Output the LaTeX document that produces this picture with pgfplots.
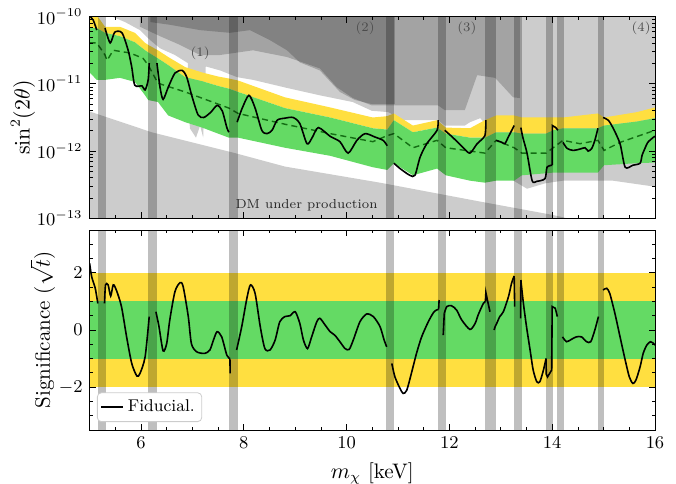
\documentclass[border=0pt]{standalone}
\usepackage{pgfplots}
\usepackage{pgfplotstable}
\pgfplotsset{compat=1.18}
\definecolor{byellow}{RGB}{255,223,64}
\definecolor{bgreen}{RGB}{100,218,100}
\definecolor{mgreen}{RGB}{20,110,20}

% expected median limit (log10 of sin^2(2theta))
\pgfplotstableread{
x m
5.00 -10.39
5.14 -10.39
5.30 -10.57
5.34 -10.65
5.46 -10.50
5.79 -10.54
6.04 -10.62
6.14 -10.72
6.33 -10.99
6.86 -11.12
7.71 -11.36
7.89 -11.44
8.80 -11.60
9.68 -11.74
10.51 -11.86
10.79 -11.77
10.92 -11.74
11.29 -11.95
11.76 -11.84
11.93 -11.95
12.69 -12.03
12.91 -11.84
13.26 -11.95
13.41 -12.03
13.88 -12.03
14.21 -11.84
14.54 -11.89
14.89 -11.84
15.01 -11.99
15.32 -11.87
16.00 -11.69
}\median

\newcommand{\mask}[2]{\addplot[fill=black,fill opacity=0.25,draw=none,forget plot] coordinates {(#1,-20) (#2,-20) (#2,20) (#1,20)} -- cycle;}
\newcommand{\allmasks}{%
\mask{5.16}{5.31}\mask{6.14}{6.32}\mask{7.71}{7.88}\mask{10.77}{10.92}\mask{11.77}{11.93}%
\mask{12.69}{12.91}\mask{13.26}{13.41}\mask{13.88}{14.01}\mask{14.10}{14.22}\mask{14.90}{15.01}}

\pgfplotsset{
  common/.style={
    scale only axis, width=282.7pt,
    xmin=5, xmax=16,
    xtick={6,8,10,12,14,16},
    minor xtick={5,5.5,...,16},
    tick align=inside,
    major tick length=3pt, minor tick length=1.6pt,
    every tick/.style={black, line width=0.4pt},
    axis on top,
    ticklabel style={font=\fontsize{9}{10}\selectfont},
    label style={font=\fontsize{10.5}{12}\selectfont},
    axis line style={line width=0.5pt},
  },
  obs/.style={black, line width=0.8pt, smooth, tension=0.45, forget plot},
}
\tikzset{ann/.style={font=\fontsize{6.5}{7.5}\selectfont, text=black!70}}

\begin{document}
\begin{tikzpicture}
% ---------------- top panel ----------------
\begin{axis}[common,
  at={(44.8pt,-109.15pt)}, anchor=south west,
  height=100.8pt,
  ymin=-13, ymax=-10,
  xticklabels={},
  ytick={-13,-12,-11,-10},
  yticklabels={$10^{-13}$,$10^{-12}$,$10^{-11}$,$10^{-10}$},
  minor ytick={-12.699,-12.523,-12.398,-12.301,-12.222,-12.155,-12.097,-12.046,
               -11.699,-11.523,-11.398,-11.301,-11.222,-11.155,-11.097,-11.046,
               -10.699,-10.523,-10.398,-10.301,-10.222,-10.155,-10.097,-10.046},
  ylabel={$\sin^2(2\theta)$},
  ylabel style={yshift=-6pt},
]
% exclusion regions (semi-transparent layers)
\addplot[fill=black, fill opacity=0.2, draw=none, forget plot] coordinates {
(5.44,-10) (16,-10) (16,-12.53) (15.18,-12.44) (14.21,-12.44) (13.86,-12.48) (13.51,-12.56)
(13.18,-12.41) (12.89,-11.92) (12.73,-11.62) (12.60,-11.51) (12.40,-11.57) (12.30,-11.62)
(11.91,-11.62) (11.78,-11.54) (11.10,-11.54) (10.81,-11.42) (10.49,-11.40) (10.12,-11.27)
(9.48,-11.17) (8.84,-11.06) (8.18,-10.94) (7.87,-10.90) (7.54,-10.80) (7.26,-10.74)
(7.21,-11.80) (7.15,-11.62) (7.07,-11.80) (6.95,-11.66) (6.91,-10.69) (6.66,-10.57)
(6.37,-10.47) (6.18,-10.35) (5.98,-10.20) (5.69,-10.08) (5.44,-10.00)} -- cycle;
\addplot[fill=black, fill opacity=0.2, draw=none, forget plot] coordinates {
(5.98,-10) (13.37,-10) (13.37,-11.21) (13.24,-11.20) (12.89,-10.91) (12.54,-10.87)
(12.30,-11.39) (11.91,-11.39) (11.78,-11.32) (11.10,-11.32) (10.49,-11.32) (10.12,-11.21)
(9.81,-11.05) (9.48,-10.77) (8.84,-10.60) (8.18,-10.50) (7.54,-10.57) (7.15,-10.57)
(6.76,-10.42) (6.37,-10.29) (5.98,-10.15)} -- cycle;
\addplot[fill=black, fill opacity=0.2, draw=none, forget plot] coordinates {
(6.18,-10) (10.94,-10) (10.94,-11.30) (10.49,-11.30) (10.16,-11.24) (9.87,-11.12)
(9.48,-10.80) (9.09,-10.68) (8.84,-10.50) (8.51,-10.35) (8.12,-10.20) (7.73,-10.24)
(7.15,-10.20) (6.56,-10.12) (6.18,-10.08)} -- cycle;
% DM under production
\addplot[fill=black, fill opacity=0.2, draw=none, forget plot] coordinates {
(5,-13) (5,-11.41) (6.21,-11.72) (7.83,-12.03) (8.80,-12.23) (10.65,-12.47)
(12.59,-12.75) (14.01,-12.95) (16,-13.3) (16,-13)} -- cycle;
% 2 sigma (upper) band: u2 forward, u1 backward
\addplot[fill=byellow, draw=none, forget plot] coordinates {
(5.00,-9.98) (5.14,-9.98) (5.30,-10.15) (5.59,-10.15) (5.88,-10.24) (6.08,-10.39) (6.14,-10.42)
(6.33,-10.50) (6.53,-10.60) (6.86,-10.75) (7.19,-10.83) (7.50,-10.89) (7.71,-10.92) (7.89,-10.95)
(8.80,-11.20) (9.68,-11.35) (10.51,-11.50) (10.79,-11.48) (10.92,-11.44) (11.29,-11.62)
(11.76,-11.54) (11.93,-11.65) (12.40,-11.66) (12.69,-11.54) (12.91,-11.47) (13.26,-11.47)
(13.41,-11.50) (13.88,-11.50) (14.02,-11.50) (14.21,-11.50) (14.89,-11.44) (15.01,-11.50)
(15.65,-11.42) (16.00,-11.35)
(16.00,-11.51) (15.65,-11.56) (15.01,-11.62) (14.89,-11.66) (14.21,-11.66) (14.02,-11.69)
(13.88,-11.74) (13.41,-11.74) (13.26,-11.72) (12.91,-11.72) (12.69,-11.80) (12.40,-11.80)
(11.93,-11.74) (11.76,-11.65) (11.29,-11.72) (10.92,-11.54) (10.79,-11.68) (10.51,-11.66)
(9.68,-11.50) (8.80,-11.36) (7.89,-11.12) (7.71,-11.07) (7.50,-11.03) (7.19,-10.96)
(6.86,-10.90) (6.53,-10.72) (6.33,-10.62) (6.14,-10.53) (6.08,-10.50) (5.88,-10.38)
(5.59,-10.29) (5.30,-10.24) (5.14,-10.17) (5.00,-10.17)} -- cycle;
% 1 sigma band: u1 forward, l1 backward
\addplot[fill=bgreen, draw=none, forget plot] coordinates {
(5.00,-10.17) (5.14,-10.17) (5.30,-10.24) (5.59,-10.29) (5.88,-10.38) (6.08,-10.50) (6.14,-10.53)
(6.33,-10.62) (6.53,-10.72) (6.86,-10.90) (7.19,-10.96) (7.50,-11.03) (7.71,-11.07) (7.89,-11.12)
(8.80,-11.36) (9.68,-11.50) (10.51,-11.66) (10.79,-11.68) (10.92,-11.54) (11.29,-11.72)
(11.76,-11.65) (11.93,-11.74) (12.40,-11.80) (12.69,-11.80) (12.91,-11.72) (13.26,-11.72)
(13.41,-11.74) (13.88,-11.74) (14.02,-11.69) (14.21,-11.66) (14.89,-11.66) (15.01,-11.62)
(15.65,-11.56) (16.00,-11.51)
(16.00,-12.17) (15.65,-12.18) (15.01,-12.21) (14.89,-12.32) (14.21,-12.32) (14.02,-12.32)
(13.88,-12.33) (13.41,-12.36) (13.26,-12.44) (12.91,-12.44) (12.69,-12.47) (12.40,-12.44)
(11.93,-12.36) (11.76,-12.26) (11.29,-12.36) (10.92,-12.18) (10.79,-12.28) (10.51,-12.24)
(9.68,-12.07) (8.80,-11.95) (7.89,-11.80) (7.71,-11.80) (7.50,-11.74) (7.19,-11.65)
(6.86,-11.57) (6.53,-11.47) (6.33,-11.27) (6.14,-11.24) (6.08,-11.17) (5.88,-10.97)
(5.59,-10.91) (5.30,-10.94) (5.14,-10.94) (5.00,-10.83)} -- cycle;
\addplot[mgreen, line width=0.7pt, dash pattern=on 3pt off 2pt, forget plot] table[x=x, y=m] {\median};
\allmasks
% observed limit
\addplot[obs] coordinates {(5.00,-9.99) (5.07,-10.05) (5.14,-10.20)};
\addplot[obs] coordinates {(5.30,-10.17) (5.40,-10.39) (5.49,-10.23) (5.63,-10.24) (5.75,-10.50)
 (5.82,-10.75) (5.88,-11.02) (6.02,-11.03) (6.08,-11.09) (6.14,-10.94) (6.16,-10.69)};
\addplot[obs] coordinates {(6.31,-10.69) (6.37,-11.05) (6.43,-11.23) (6.53,-11.05) (6.66,-10.84)
 (6.80,-10.80) (6.89,-10.90) (6.99,-11.18) (7.11,-11.46) (7.22,-11.50) (7.36,-11.42)
 (7.48,-11.32) (7.58,-11.40) (7.67,-11.65) (7.71,-11.72)};
\addplot[obs] coordinates {(7.87,-11.57) (7.97,-11.36) (8.10,-11.17) (8.22,-11.36) (8.35,-11.69)
 (8.45,-11.74) (8.55,-11.69) (8.65,-11.54) (8.80,-11.51) (8.96,-11.50) (9.09,-11.59)
 (9.23,-11.89) (9.33,-11.80) (9.45,-11.65) (9.68,-11.78) (9.87,-11.86) (10.03,-12.03)
 (10.20,-11.84) (10.36,-11.74) (10.55,-11.79) (10.71,-11.84) (10.79,-11.92)};
\addplot[obs] coordinates {(10.92,-12.18) (11.04,-12.26) (11.23,-12.36) (11.33,-12.36)
 (11.43,-12.09) (11.56,-11.89) (11.76,-11.69) (11.78,-11.54)};
\addplot[obs] coordinates {(11.91,-11.69) (12.07,-11.80) (12.27,-11.95) (12.40,-12.03)
 (12.54,-11.89) (12.69,-11.77) (12.71,-11.54)};
\addplot[obs] coordinates {(12.91,-11.84) (13.02,-11.87) (13.08,-11.89) (13.14,-11.80) (13.26,-11.62)};
\addplot[obs] coordinates {(13.39,-11.65) (13.43,-11.80) (13.51,-12.03) (13.61,-12.44)
 (13.70,-12.45) (13.86,-12.41) (13.90,-12.24) (14.00,-12.21)};
\addplot[black, line width=0.8pt, forget plot] coordinates {(14.00,-12.21) (14.005,-11.62) (14.07,-11.65) (14.11,-11.69)};
\addplot[obs] coordinates {(14.21,-11.87) (14.29,-11.96) (14.41,-11.99) (14.54,-11.97)
 (14.64,-11.95) (14.70,-12.00) (14.77,-11.96) (14.83,-11.84) (14.89,-11.66)};
\addplot[obs] coordinates {(14.99,-11.50) (15.09,-11.54) (15.18,-11.65) (15.32,-11.89)
 (15.42,-12.24) (15.57,-12.21) (15.71,-12.18) (15.75,-12.06) (15.81,-11.95)
 (15.86,-11.87) (15.96,-11.80) (16.00,-11.78)};
% labels
\node[ann] at (axis cs:7.15,-10.55) {(1)};
\node[ann] at (axis cs:10.36,-10.17) {(2)};
\node[ann] at (axis cs:12.34,-10.17) {(3)};
\node[ann] at (axis cs:15.73,-10.17) {(4)};
\node[ann, text=black!85, anchor=base] at (axis cs:9.22,-12.855) {DM under production};
\end{axis}

% ---------------- bottom panel ----------------
\begin{axis}[common,
  at={(44.8pt,-215pt)}, anchor=south west,
  height=100pt,
  ymin=-3.5, ymax=3.5,
  ytick={-2,0,2},
  minor ytick={-3.5,-3,...,3.5},
  xlabel={$m_\chi$ [keV]},
  ylabel={Significance ($\sqrt{t}$)},
  ylabel style={yshift=-5pt},
  legend style={at={(0.013,0.04)}, anchor=south west, draw=black!20, rounded corners=2pt,
    fill=white, font=\fontsize{8.5}{10}\selectfont, inner sep=1.5pt},
  legend cell align=left,
  legend image code/.code={\draw[#1] (0pt,0pt) -- (11pt,0pt);},
]
\addplot[fill=byellow, draw=none, forget plot] coordinates {(5,-2) (16,-2) (16,2) (5,2)} -- cycle;
\addplot[fill=bgreen, draw=none, forget plot] coordinates {(5,-1) (16,-1) (16,1) (5,1)} -- cycle;
\allmasks
\addplot[black, line width=0.8pt, smooth, tension=0.45] coordinates {(5.00,2.34) (5.04,1.87) (5.11,1.46) (5.16,0.93)};
\addlegendentry{Fiducial.}
\addplot[obs] coordinates {(5.29,0.93) (5.31,1.58) (5.36,1.58) (5.41,1.19) (5.46,1.58) (5.52,1.40)
 (5.62,0.82) (5.72,-0.24) (5.82,-1.17) (5.92,-1.61) (5.98,-1.52) (6.08,-0.94) (6.16,0.47)};
\addplot[obs] coordinates {(6.29,0.64) (6.31,0.47) (6.35,0.12) (6.43,-0.73) (6.50,-0.47) (6.56,0.35)
 (6.66,1.34) (6.76,1.66) (6.82,1.52) (6.92,0.47) (6.98,-0.47) (7.08,-0.76) (7.24,-0.82)
 (7.34,-0.70) (7.41,-0.35) (7.48,-0.06) (7.57,-0.24) (7.67,-0.88) (7.73,-1.00)};
\addplot[black, line width=0.8pt, forget plot] coordinates {(7.73,-1.00) (7.735,-1.52)};
\addplot[obs] coordinates {(7.86,-0.70) (7.96,0.12) (8.06,1.11) (8.13,1.58) (8.22,1.28) (8.32,0.12)
 (8.41,-0.65) (8.51,-0.70) (8.61,-0.35) (8.70,0.29) (8.80,0.47) (8.90,0.50) (9.00,0.64)
 (9.09,0.23) (9.16,-0.35) (9.24,-0.65) (9.32,-0.24) (9.42,0.29) (9.48,0.41) (9.58,0.18)
 (9.68,-0.06) (9.77,-0.18) (9.87,-0.41) (9.97,-0.65) (10.05,-0.68) (10.13,-0.35)
 (10.26,0.29) (10.39,0.56) (10.52,0.47) (10.65,0.12) (10.73,-0.35) (10.78,-0.59)};
\addplot[obs] coordinates {(10.88,-1.17) (10.94,-1.64) (11.04,-2.05) (11.10,-2.22) (11.17,-2.11)
 (11.26,-1.52) (11.36,-0.82) (11.46,-0.24) (11.59,0.29) (11.69,0.61) (11.75,0.70) (11.79,0.72)};
\addplot[black, line width=0.8pt, forget plot] coordinates {(11.79,0.72) (11.80,1.05)};
\addplot[black, line width=0.8pt, forget plot] coordinates {(11.88,-0.18) (11.90,0.58)};
\addplot[obs] coordinates {(11.90,0.58) (11.95,0.82) (12.04,0.85) (12.14,0.70) (12.24,0.35)
 (12.40,0.02) (12.50,0.23) (12.56,0.53) (12.66,0.93) (12.70,0.99)};
\addplot[black, line width=0.8pt, forget plot] coordinates {(12.70,0.99) (12.71,1.31) (12.75,0.96) (12.79,0.64)};
\addplot[obs] coordinates {(12.87,0.00) (12.89,0.12) (12.92,0.23) (12.98,0.47) (13.05,0.64)
 (13.15,1.17) (13.21,1.64) (13.26,1.89)};
\addplot[black, line width=0.8pt, forget plot] coordinates {(13.26,1.89) (13.27,0.82)};
\addplot[black, line width=0.8pt, forget plot] coordinates {(13.385,0.41) (13.39,1.75)};
\addplot[obs] coordinates {(13.39,1.75) (13.44,0.93) (13.50,0.12) (13.57,-0.70) (13.63,-1.40)
 (13.70,-1.81) (13.76,-1.81) (13.83,-1.40) (13.88,-1.00)};
\addplot[black, line width=0.8pt, forget plot] coordinates {(13.88,-1.00) (13.885,-1.55) (13.91,-1.64) (13.99,-1.40) (14.00,0.82) (14.06,0.76) (14.10,0.47)};
\addplot[obs] coordinates {(14.20,-0.24) (14.28,-0.41) (14.38,-0.32) (14.47,-0.24) (14.57,-0.24)
 (14.67,-0.41) (14.75,-0.41) (14.83,0.00) (14.90,0.47)};
\addplot[obs] coordinates {(14.99,1.40) (15.06,1.46) (15.12,1.28) (15.22,0.58) (15.32,-0.24)
 (15.42,-1.05) (15.50,-1.64) (15.57,-1.87) (15.63,-1.75) (15.71,-1.29) (15.77,-0.82)
 (15.84,-0.53) (15.91,-0.41) (15.96,-0.45) (16.00,-0.53)};
\end{axis}
\pgfresetboundingbox
\path[use as bounding box] (0,0) rectangle (338pt,-241.5pt);
\end{tikzpicture}
\end{document}
